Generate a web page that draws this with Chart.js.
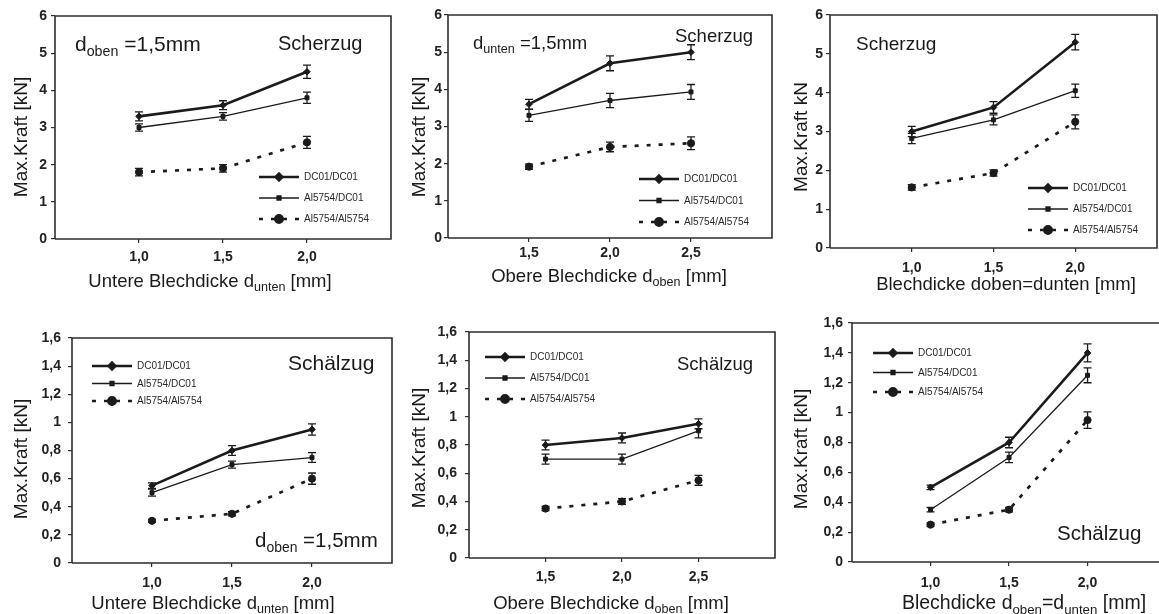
<!DOCTYPE html>
<html>
<head>
<meta charset="utf-8">
<script src="https://cdn.jsdelivr.net/npm/chart.js@4/dist/chart.umd.min.js"></script>
<style>
  html, body { margin: 0; padding: 0; background: #fff; }
  body { width: 1159px; height: 614px; position: relative; overflow: hidden; }
  canvas { position: absolute; }
</style>
</head>
<body>
<canvas id="c1"></canvas>
<canvas id="c2"></canvas>
<canvas id="c3"></canvas>
<canvas id="c4"></canvas>
<canvas id="c5"></canvas>
<canvas id="c6"></canvas>
<script>
// sheet thickness on the x axis
const xUnten = [1.0, 1.5, 2.0];
const xOben = [1.5, 2.0, 2.5];

const seriesNames = ["DC01/DC01", "Al5754/DC01", "Al5754/Al5754"];

const scherTicks = [0, 1, 2, 3, 4, 5, 6];
const schaelTicks = [0, 0.2, 0.4, 0.6, 0.8, 1, 1.2, 1.4, 1.6];

// Scherzug, d_oben = 1,5 mm  (rows: DC01/DC01, Al5754/DC01, Al5754/Al5754)
const p1Values = [[3.3, 3.6, 4.5], [3.0, 3.3, 3.8], [1.8, 1.9, 2.6]];
const p1Errors = [[0.12, 0.12, 0.18], [0.1, 0.1, 0.15], [0.1, 0.1, 0.16]];
// Scherzug, d_unten = 1,5 mm
const p2Values = [[3.6, 4.7, 5.0], [3.3, 3.7, 3.93], [1.92, 2.45, 2.55]];
const p2Errors = [[0.13, 0.2, 0.2], [0.16, 0.19, 0.2], [0.07, 0.13, 0.17]];
// Scherzug, d_oben = d_unten
const p3Values = [[3.0, 3.62, 5.3], [2.82, 3.3, 4.05], [1.56, 1.93, 3.25]];
const p3Errors = [[0.13, 0.15, 0.2], [0.13, 0.13, 0.17], [0.07, 0.08, 0.18]];
// Schälzug, d_oben = 1,5 mm
const p4Values = [[0.55, 0.8, 0.95], [0.5, 0.7, 0.75], [0.3, 0.35, 0.6]];
const p4Errors = [[0.02, 0.035, 0.04], [0.025, 0.025, 0.035], [0.01, 0.015, 0.04]];
// Schälzug, d_unten = 1,5 mm
const p5Values = [[0.8, 0.85, 0.95], [0.7, 0.7, 0.9], [0.35, 0.4, 0.55]];
const p5Errors = [[0.035, 0.035, 0.035], [0.035, 0.035, 0.05], [0.015, 0.02, 0.035]];
// Schälzug, d_oben = d_unten
const p6Values = [[0.5, 0.8, 1.4], [0.35, 0.7, 1.25], [0.25, 0.35, 0.95]];
const p6Errors = [[0.015, 0.035, 0.06], [0.015, 0.035, 0.05], [0.012, 0.015, 0.055]];

const INK = "#1b1b1b";
const FONT = '"Liberation Sans", Arial, sans-serif';

const seriesStyle = [
  { width: 2.6, dash: [], point: "rectRot", radius: 3.3 },
  { width: 1.3, dash: [], point: "rect", radius: 2.8 },
  { width: 2.7, dash: [4, 8], point: "circle", radius: 3.6 },
];

// page layout of each panel: canvas box and plot area in page pixels
const panels = [
  { id: "c1", box: [0, 0, 395, 300], area: [55, 16, 391, 239], xs: xUnten, xMin: 0.5, xMax: 2.5,
    values: p1Values, errors: p1Errors, yTicks: scherTicks, yMax: 6, rightBorder: true,
    xTickPad: 6, yTickPad: 4,
    xTitle: "Untere Blechdicke d_{unten} [mm]", xTitlePos: [210, 280], xTitleSize: 18.5,
    yTitle: "Max.Kraft [kN]", yTitlePos: [20, 137],
    notes: [{ t: "d_{oben} =1,5mm", x: 75, y: 43, s: 21 }, { t: "Scherzug", x: 278, y: 43, s: 20 }],
    legend: [259, 177, 21] },
  { id: "c2", box: [395, 0, 385, 300], area: [448, 15, 772, 238], xs: xOben, xMin: 1.0, xMax: 3.0,
    values: p2Values, errors: p2Errors, yTicks: scherTicks, yMax: 6, rightBorder: true,
    xTickPad: 3, yTickPad: 2,
    xTitle: "Obere Blechdicke d_{oben} [mm]", xTitlePos: [609, 275], xTitleSize: 18.5,
    yTitle: "Max.Kraft [kN]", yTitlePos: [418, 137],
    notes: [{ t: "d_{unten} =1,5mm", x: 473, y: 42, s: 18.5 }, { t: "Scherzug", x: 675, y: 35, s: 18.5 }],
    legend: [639, 179, 21.5] },
  { id: "c3", box: [780, 0, 379, 300], area: [830, 15, 1157, 248], xs: xUnten, xMin: 0.5, xMax: 2.5,
    values: p3Values, errors: p3Errors, yTicks: scherTicks, yMax: 6, rightBorder: true,
    xTickPad: 8, yTickPad: 3,
    xTitle: "Blechdicke doben=dunten [mm]", xTitlePos: [1006, 283], xTitleSize: 18.5,
    yTitle: "Max.Kraft kN", yTitlePos: [800, 137],
    notes: [{ t: "Scherzug", x: 856, y: 43, s: 19 }],
    legend: [1028, 188, 21] },
  { id: "c4", box: [0, 300, 395, 314], area: [72, 338, 392, 563], xs: xUnten, xMin: 0.5, xMax: 2.5,
    values: p4Values, errors: p4Errors, yTicks: schaelTicks, yMax: 1.6, rightBorder: true,
    xTickPad: 8, yTickPad: 7,
    xTitle: "Untere Blechdicke d_{unten} [mm]", xTitlePos: [213, 602], xTitleSize: 18.5,
    yTitle: "Max.Kraft [kN]", yTitlePos: [20, 459],
    notes: [{ t: "Schälzug", x: 288, y: 362, s: 21 }, { t: "d_{oben} =1,5mm", x: 255, y: 540, s: 20.5 }],
    legend: [92, 366, 17.5] },
  { id: "c5", box: [395, 300, 385, 314], area: [469, 332, 775, 558], xs: xOben, xMin: 1.0, xMax: 3.0,
    values: p5Values, errors: p5Errors, yTicks: schaelTicks, yMax: 1.6, rightBorder: true,
    xTickPad: 7, yTickPad: 8,
    xTitle: "Obere Blechdicke d_{oben} [mm]", xTitlePos: [611, 602], xTitleSize: 18.5,
    yTitle: "Max.Kraft [kN]", yTitlePos: [418, 448],
    notes: [{ t: "Schälzug", x: 677, y: 363, s: 18.5 }],
    legend: [485, 357, 21] },
  { id: "c6", box: [780, 300, 379, 314], area: [852, 323, 1159, 562], xs: xUnten, xMin: 0.5, xMax: 2.455,
    values: p6Values, errors: p6Errors, yTicks: schaelTicks, yMax: 1.6, rightBorder: false,
    xTickPad: 9, yTickPad: 5,
    xTitle: "Blechdicke d_{oben}=d_{unten} [mm]", xTitlePos: [1024, 602], xTitleSize: 19.5,
    yTitle: "Max.Kraft [kN]", yTitlePos: [800, 449],
    notes: [{ t: "Schälzug", x: 1057, y: 533, s: 20.5 }],
    legend: [873, 353, 19.5] },
];

const fmt = (v) => String(Math.round(v * 100) / 100).replace(".", ",");

// text with _{...} subscripts, y is the vertical centre of the capitals
function drawRich(ctx, str, x, y, size, align) {
  const parts = [];
  const re = /_\{([^}]*)\}/g;
  let last = 0, m;
  while ((m = re.exec(str))) {
    if (m.index > last) parts.push({ t: str.slice(last, m.index), sub: false });
    parts.push({ t: m[1], sub: true });
    last = re.lastIndex;
  }
  if (last < str.length) parts.push({ t: str.slice(last), sub: false });

  const subSize = size * 0.68;
  let total = 0;
  parts.forEach((p) => {
    ctx.font = (p.sub ? subSize : size) + "px " + FONT;
    p.w = ctx.measureText(p.t).width;
    total += p.w;
  });
  let cx = align === "center" ? x - total / 2 : x;
  const base = y + size * 0.36;
  ctx.textAlign = "left";
  ctx.textBaseline = "alphabetic";
  parts.forEach((p) => {
    ctx.font = (p.sub ? subSize : size) + "px " + FONT;
    ctx.fillText(p.t, cx, p.sub ? base + size * 0.24 : base);
    cx += p.w;
  });
}

function makeChart(p) {
  const [x0, y0, w, h] = p.box;
  const [L, T, R, B] = p.area;
  const canvas = document.getElementById(p.id);
  canvas.width = w;
  canvas.height = h;
  canvas.style.left = x0 + "px";
  canvas.style.top = y0 + "px";
  canvas.style.width = w + "px";
  canvas.style.height = h + "px";

  const decor = {
    id: "decor",
    afterDatasetsDraw(chart) {
      const ctx = chart.ctx;
      const yScale = chart.scales.y;
      ctx.save();
      ctx.strokeStyle = INK;
      ctx.lineWidth = 1.3;
      ctx.setLineDash([]);
      chart.data.datasets.forEach((ds, i) => {
        const meta = chart.getDatasetMeta(i);
        meta.data.forEach((pt, j) => {
          const v = p.values[i][j], e = p.errors[i][j];
          const yHi = yScale.getPixelForValue(v + e);
          const yLo = yScale.getPixelForValue(v - e);
          ctx.beginPath();
          ctx.moveTo(pt.x, yHi); ctx.lineTo(pt.x, yLo);
          ctx.moveTo(pt.x - 4, yHi); ctx.lineTo(pt.x + 4, yHi);
          ctx.moveTo(pt.x - 4, yLo); ctx.lineTo(pt.x + 4, yLo);
          ctx.stroke();
        });
      });
      ctx.restore();
    },
    afterDraw(chart) {
      const ctx = chart.ctx;
      const a = chart.chartArea;
      ctx.save();
      // frame
      ctx.strokeStyle = "#2e2e2e";
      ctx.lineWidth = 1.6;
      ctx.beginPath();
      ctx.moveTo(a.left, a.bottom); ctx.lineTo(a.left, a.top); ctx.lineTo(a.right, a.top);
      if (p.rightBorder) ctx.lineTo(a.right, a.bottom); else ctx.moveTo(a.right, a.bottom);
      ctx.lineTo(a.left, a.bottom);
      ctx.stroke();

      // legend
      const [lx, ly, step] = p.legend;
      chart.data.datasets.forEach((ds, i) => {
        const st = seriesStyle[i];
        const gx = lx - x0, gy = ly - y0 + i * step;
        ctx.strokeStyle = INK;
        ctx.fillStyle = INK;
        ctx.lineWidth = st.width;
        ctx.setLineDash(st.dash);
        ctx.beginPath();
        ctx.moveTo(gx, gy); ctx.lineTo(gx + 40, gy);
        ctx.stroke();
        ctx.setLineDash([]);
        Chart.helpers.drawPoint(ctx, { pointStyle: st.point, radius: st.radius, borderWidth: 1, rotation: 0 }, gx + 20, gy);
        ctx.fillStyle = "#2a2a2a";
        ctx.font = "10px " + FONT;
        ctx.textAlign = "left";
        ctx.textBaseline = "middle";
        ctx.fillText(ds.label, gx + 45, gy + 0.5);
      });

      // notes inside the plot
      ctx.fillStyle = "#1a1a1a";
      p.notes.forEach((n) => drawRich(ctx, n.t, n.x - x0, n.y - y0, n.s, "left"));

      // axis titles
      drawRich(ctx, p.xTitle, p.xTitlePos[0] - x0, p.xTitlePos[1] - y0, p.xTitleSize, "center");
      ctx.translate(p.yTitlePos[0] - x0, p.yTitlePos[1] - y0);
      ctx.rotate(-Math.PI / 2);
      drawRich(ctx, p.yTitle, 0, 0, 19, "center");
      ctx.restore();
    },
  };

  const tickFont = { family: FONT, size: 14, weight: "bold" };

  return new Chart(canvas, {
    type: "line",
    data: {
      datasets: seriesNames.map((name, i) => ({
        label: name,
        data: p.xs.map((x, j) => ({ x: x, y: p.values[i][j] })),
        borderColor: INK,
        backgroundColor: INK,
        borderWidth: seriesStyle[i].width,
        borderDash: seriesStyle[i].dash,
        pointStyle: seriesStyle[i].point,
        pointRadius: seriesStyle[i].radius,
        pointBorderWidth: 1,
        tension: 0,
        fill: false,
      })),
    },
    options: {
      responsive: false,
      animation: false,
      devicePixelRatio: 1,
      layout: { autoPadding: false, padding: { left: 0, top: T - y0, right: x0 + w - R, bottom: 0 } },
      plugins: { legend: { display: false }, tooltip: { enabled: false } },
      scales: {
        x: {
          type: "linear",
          min: p.xMin,
          max: p.xMax,
          afterBuildTicks: (s) => { s.ticks = p.xs.map((v) => ({ value: v })); },
          afterFit: (s) => { s.height = y0 + h - B; },
          grid: { drawOnChartArea: false, drawTicks: true, tickLength: 4, color: "#2e2e2e", lineWidth: 1.2 },
          border: { display: false },
          ticks: { autoSkip: false, maxRotation: 0, padding: p.xTickPad, font: tickFont, color: "#222",
                   callback: (v) => v.toFixed(1).replace(".", ",") },
        },
        y: {
          min: 0,
          max: p.yMax,
          afterBuildTicks: (s) => { s.ticks = p.yTicks.map((v) => ({ value: v })); },
          afterFit: (s) => { s.width = L - x0; },
          grid: { drawOnChartArea: false, drawTicks: true, tickLength: 4, color: "#2e2e2e", lineWidth: 1.2 },
          border: { display: false },
          ticks: { autoSkip: false, padding: p.yTickPad, font: tickFont, color: "#222", callback: (v) => fmt(v) },
        },
      },
    },
    plugins: [decor],
  });
}

panels.forEach(makeChart);
</script>
</body>
</html>
